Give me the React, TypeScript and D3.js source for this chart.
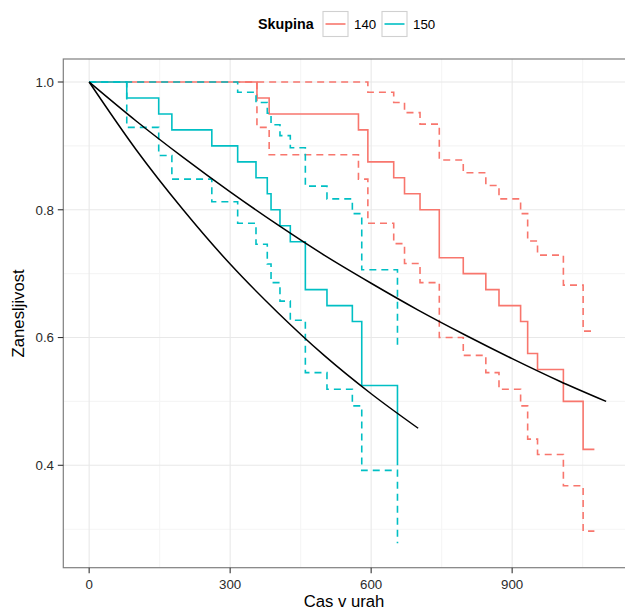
import React from "react";
import * as d3 from "d3";

// ---------- data ----------
// group 140 (red) Kaplan-Meier estimate with confidence band
const times140 = [0, 357, 383, 573, 593, 648, 671, 704, 745, 796, 844, 872, 918, 933, 954, 1009, 1051];
const surv140 = [1, 0.975, 0.95, 0.925, 0.875, 0.85, 0.825, 0.8, 0.725, 0.7, 0.675, 0.65, 0.625, 0.575, 0.55, 0.5, 0.425];
const lower140 = [1, 0.929, 0.886, 0.848, 0.779, 0.747, 0.716, 0.686, 0.6, 0.572, 0.545, 0.519, 0.493, 0.441, 0.417, 0.368, 0.297];
const upper140 = [1, 1, 1, 1, 0.984, 0.968, 0.952, 0.934, 0.878, 0.858, 0.838, 0.817, 0.794, 0.751, 0.729, 0.682, 0.61];
const end140 = 1075;

// group 150 (cyan)
const times150 = [0, 80, 148, 176, 261, 316, 355, 379, 387, 406, 428, 460, 506, 560, 580, 656];
const surv150 = [1, 0.975, 0.95, 0.925, 0.9, 0.875, 0.85, 0.825, 0.8, 0.775, 0.75, 0.675, 0.65, 0.625, 0.525, 0.4];
const lower150 = [1, 0.929, 0.885, 0.848, 0.8125, 0.779, 0.746, 0.715, 0.686, 0.657, 0.627, 0.545, 0.519, 0.493, 0.392, 0.278];
const upper150 = [1, 1, 1, 1, 1, 0.984, 0.968, 0.951, 0.933, 0.916, 0.897, 0.837, 0.817, 0.794, 0.706, 0.585];
const end150 = 656;

// fitted (black) curves
const fitTimes150 = [0, 100, 200, 300, 400, 500, 600, 700];
const fitSurv150 = [1, 0.894, 0.8, 0.715, 0.64, 0.572, 0.512, 0.458];
const fitTimes140 = [0, 100, 200, 300, 400, 500, 600, 700, 800, 900, 1000, 1100];
const fitSurv140 = [1, 0.939, 0.882, 0.828, 0.777, 0.729, 0.685, 0.643, 0.604, 0.567, 0.532, 0.5];

const groups = ["140", "150"];
const groupColors = ["#F8766D", "#00BFC4"];

const xTicks = [0, 300, 600, 900];
const xMinor = [150, 450, 750, 1050];
const yTicks = [0.4, 0.6, 0.8, 1.0];
const yMinor = [0.3, 0.5, 0.7, 0.9];

// ---------- layout ----------
const W = 625;
const H = 611;
const panel = { left: 63.3, right: 632, top: 59, bottom: 567.7 };

const x = d3.scaleLinear().domain([-55, 1155]).range([panel.left, panel.right]);
const y = d3.scaleLinear().domain([0.2397, 1.036]).range([panel.bottom, panel.top]);

type P = [number, number];
const stepLine = d3
  .line<P>()
  .x((d) => x(d[0]))
  .y((d) => y(d[1]))
  .curve(d3.curveStepAfter);
const smoothLine = d3
  .line<P>()
  .x((d) => x(d[0]))
  .y((d) => y(d[1]))
  .curve(d3.curveMonotoneX);

function stepPts(t: number[], s: number[], end: number): P[] {
  const pts: P[] = t.map((ti, i) => [ti, s[i]] as P);
  if (end > t[t.length - 1]) pts.push([end, s[s.length - 1]]);
  return pts;
}
function zip(t: number[], s: number[]): P[] {
  return t.map((ti, i) => [ti, s[i]] as P);
}

const series = [
  { color: groupColors[0], t: times140, s: surv140, lo: lower140, hi: upper140, end: end140 },
  { color: groupColors[1], t: times150, s: surv150, lo: lower150, hi: upper150, end: end150 },
];

const FONT = "'Liberation Sans', Arial, Helvetica, sans-serif";
const DASH = "7,5";

export default function App() {
  return (
    <svg
      width={W}
      height={H}
      style={{ position: "absolute", left: 0, top: 0, background: "#fff" }}
      fontFamily={FONT}
    >
      <rect x={0} y={0} width={W} height={H} fill="#fff" />
      {/* minor grid */}
      {xMinor.map((v) => (
        <line key={"xm" + v} x1={x(v)} x2={x(v)} y1={panel.top} y2={panel.bottom} stroke="#f5f5f5" strokeWidth={1.1} />
      ))}
      {yMinor.map((v) => (
        <line key={"ym" + v} x1={panel.left} x2={panel.right} y1={y(v)} y2={y(v)} stroke="#f5f5f5" strokeWidth={1.1} />
      ))}
      {/* major grid */}
      {xTicks.map((v) => (
        <line key={"xg" + v} x1={x(v)} x2={x(v)} y1={panel.top} y2={panel.bottom} stroke="#e8e8e8" strokeWidth={1.1} />
      ))}
      {yTicks.map((v) => (
        <line key={"yg" + v} x1={panel.left} x2={panel.right} y1={y(v)} y2={y(v)} stroke="#e8e8e8" strokeWidth={1.1} />
      ))}

      {/* KM curves */}
      {series.map((g, i) => (
        <g key={"s" + i} fill="none" stroke={g.color} strokeWidth={1.6}>
          <path d={stepLine(stepPts(g.t, g.lo, g.end)) || ""} strokeDasharray={DASH} />
          <path d={stepLine(stepPts(g.t, g.hi, g.end)) || ""} strokeDasharray={DASH} />
          <path d={stepLine(stepPts(g.t, g.s, g.end)) || ""} />
        </g>
      ))}

      {/* fitted curves */}
      <path d={smoothLine(zip(fitTimes140, fitSurv140)) || ""} fill="none" stroke="#000" strokeWidth={1.5} />
      <path d={smoothLine(zip(fitTimes150, fitSurv150)) || ""} fill="none" stroke="#000" strokeWidth={1.5} />

      {/* panel border */}
      <rect
        x={panel.left}
        y={panel.top}
        width={panel.right - panel.left}
        height={panel.bottom - panel.top}
        fill="none"
        stroke="#7f7f7f"
        strokeWidth={1.2}
      />

      {/* x axis */}
      {xTicks.map((v) => (
        <g key={"xt" + v}>
          <line x1={x(v)} x2={x(v)} y1={panel.bottom} y2={panel.bottom + 5.5} stroke="#333" strokeWidth={1.1} />
          <text x={x(v)} y={588.5} textAnchor="middle" fontSize={13.3} fill="#2b2b2b">
            {String(v)}
          </text>
        </g>
      ))}
      <text x={344} y={607} textAnchor="middle" fontSize={16.7} fill="#000">
        Cas v urah
      </text>

      {/* y axis */}
      {yTicks.map((v) => (
        <g key={"yt" + v}>
          <line x1={panel.left - 5.5} x2={panel.left} y1={y(v)} y2={y(v)} stroke="#333" strokeWidth={1.1} />
          <text x={54} y={y(v)} dy="0.36em" textAnchor="end" fontSize={13.3} fill="#2b2b2b">
            {d3.format(".1f")(v)}
          </text>
        </g>
      ))}
      <text
        transform={`translate(24, ${(panel.top + panel.bottom) / 2}) rotate(-90)`}
        textAnchor="middle"
        fontSize={16.7}
        fill="#000"
      >
        Zanesljivost
      </text>

      {/* legend */}
      <text x={258} y={24} dy="0.36em" fontSize={14.3} fontWeight="bold" fill="#000">
        Skupina
      </text>
      {groups.map((gname, i) => {
        const bx = 323 + i * 59;
        return (
          <g key={"lg" + gname}>
            <rect x={bx} y={11.5} width={25} height={25} fill="#fff" stroke="#d0d0d0" strokeWidth={1.1} />
            <line x1={bx + 2.5} x2={bx + 22.5} y1={24} y2={24} stroke={groupColors[i]} strokeWidth={1.6} />
            <text x={bx + 31} y={24} dy="0.36em" fontSize={13.3} fill="#000">
              {gname}
            </text>
          </g>
        );
      })}
    </svg>
  );
}
